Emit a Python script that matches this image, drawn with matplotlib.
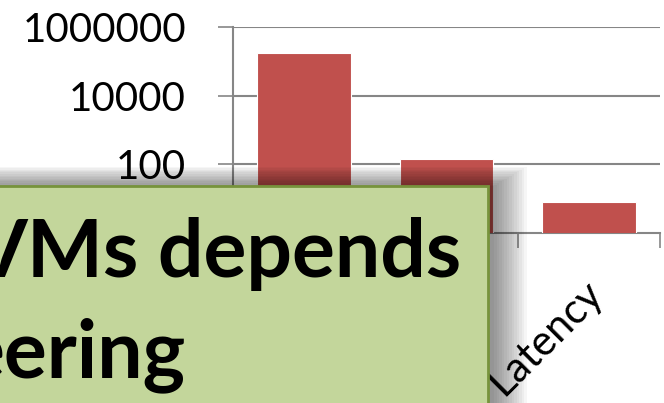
import matplotlib
matplotlib.use("Agg")
import matplotlib.pyplot as plt
from matplotlib.patches import Rectangle
from matplotlib.ticker import FixedLocator, NullFormatter
from matplotlib.transforms import blended_transform_factory

# data (log scale, first two labels hidden by the callout)
categories = ["Throughput", "Jitter", "Latency"]
values = [175000, 143, 8]
ytick_vals = [100, 10000, 1000000]
ytick_labels = ["100", "10000", "1000000"]
callout_lines = ["VMs depends", "eering"]

W, H = 664, 403
BAR = "#C0504D"
GRID = "#868686"
BOX_RIGHT, BOX_TOP = 488, 186


def px(x0, y0, x1, y1):
    # pixel box (top-left origin) -> figure fraction rect
    return [x0 / W, 1 - y1 / H, (x1 - x0) / W, (y1 - y0) / H]


def drawChart():
    fig = plt.figure(figsize=(W / 100, H / 100), dpi=100)
    ax = fig.add_axes(px(233, 27, 660, 233))
    ax.set_yscale("log")
    ax.set_ylim(1, 1e6)
    ax.set_xlim(-0.5, len(categories) - 0.5)

    xs = list(range(len(categories)))
    ax.bar(xs, values, width=0.66, color=BAR, edgecolor="white",
           linewidth=0.8, zorder=3)

    # the "1" tick sits under the callout, so only the upper ones are labelled
    ax.yaxis.set_major_locator(FixedLocator(ytick_vals))
    ax.set_yticklabels(ytick_labels)
    ax.yaxis.set_minor_locator(FixedLocator([]))
    ax.grid(True, axis="y", color=GRID, linewidth=1.5, zorder=0)
    ax.tick_params(axis="y", direction="out", length=10.8, width=1.2,
                   color=GRID, pad=23, labelsize=29)

    # category ticks sit between bars
    ax.set_xticks(xs)
    ax.set_xticklabels([])
    ax.tick_params(axis="x", which="major", length=0)
    ax.xaxis.set_minor_locator(FixedLocator([-0.5, 0.5, 1.5, 2.5]))
    ax.xaxis.set_minor_formatter(NullFormatter())
    ax.tick_params(axis="x", which="minor", direction="out", length=10.8,
                   width=1.2, color=GRID)

    # rotated category labels; the ones under the callout are not visible
    trans = blended_transform_factory(ax.transData, ax.transAxes)
    for i, name in enumerate(categories):
        cx = ax.transData.transform((i, 1))[0]
        if cx < BOX_RIGHT:
            continue
        ax.text(i + 0.056, -0.262, name, transform=trans, rotation=45,
                ha="right", va="center", rotation_mode="anchor",
                fontsize=30, clip_on=False)

    for s in ["top", "right"]:
        ax.spines[s].set_visible(False)
    for s in ["left", "bottom"]:
        ax.spines[s].set_color(GRID)
        ax.spines[s].set_linewidth(1.5)

    # soft shadow behind the green callout
    for i in range(14):
        g = i * 2.5
        fig.patches.append(Rectangle(
            (-20 / W, -20 / H), (BOX_RIGHT + 26 + g) / W,
            (H - BOX_TOP + 20 + g * 0.6) / H,
            transform=fig.transFigure, facecolor="black", edgecolor="none",
            alpha=0.035, zorder=5))

    fig.patches.append(Rectangle(
        (-10 / W, -10 / H), (BOX_RIGHT + 10) / W, (H - BOX_TOP + 10) / H,
        transform=fig.transFigure, facecolor="#C3D69B", edgecolor="#77933C",
        linewidth=2, zorder=6))

    fig.text(462 / W, 1 - 277 / H, callout_lines[0], ha="right",
             va="baseline", fontsize=58, fontweight="bold", color="black",
             zorder=7)
    fig.text(186 / W, 1 - 377 / H, callout_lines[1], ha="right",
             va="baseline", fontsize=58, fontweight="bold", color="black",
             zorder=7)

    fig.savefig("out.png", dpi=100)


if __name__ == "__main__":
    plt.rcParams["font.family"] = ["Lato", "DejaVu Sans"]
    drawChart()
